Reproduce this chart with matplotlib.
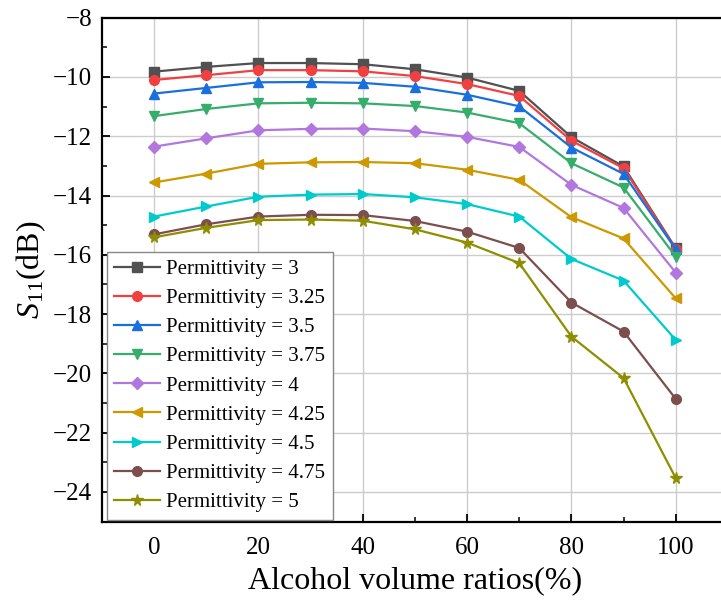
import matplotlib
matplotlib.use('Agg')
import matplotlib.pyplot as plt
from matplotlib.ticker import MultipleLocator

plt.rcParams['font.family'] = ['Liberation Serif', 'DejaVu Serif']
plt.rcParams['mathtext.fontset'] = 'custom'
plt.rcParams['mathtext.rm'] = 'Liberation Serif'
plt.rcParams['mathtext.it'] = 'Liberation Serif:italic'

# alcohol volume ratio (%)
ratio = [0, 10, 20, 30, 40, 50, 60, 70, 80, 90, 100]

# S11 (dB) for each permittivity
s_3 = [-9.82, -9.66, -9.53, -9.53, -9.57, -9.74, -10.02, -10.47, -12.03, -13.02, -15.78]
s_325 = [-10.10, -9.94, -9.77, -9.77, -9.81, -9.97, -10.24, -10.64, -12.15, -13.08, -15.80]
s_35 = [-10.56, -10.37, -10.18, -10.17, -10.20, -10.33, -10.60, -10.99, -12.38, -13.27, -15.81]
s_375 = [-11.32, -11.08, -10.89, -10.87, -10.89, -10.98, -11.20, -11.56, -12.91, -13.73, -16.06]
s_4 = [-12.35, -12.07, -11.80, -11.75, -11.74, -11.83, -12.02, -12.36, -13.64, -14.42, -16.60]
s_425 = [-13.56, -13.26, -12.93, -12.88, -12.87, -12.91, -13.13, -13.47, -14.73, -15.45, -17.47]
s_45 = [-14.71, -14.37, -14.04, -13.97, -13.95, -14.06, -14.29, -14.71, -16.14, -16.87, -18.87]
s_475 = [-15.31, -14.97, -14.71, -14.65, -14.66, -14.86, -15.22, -15.77, -17.61, -18.59, -20.86]
s_5 = [-15.41, -15.09, -14.83, -14.81, -14.85, -15.14, -15.59, -16.28, -18.76, -20.16, -23.53]

series = [s_3, s_325, s_35, s_375, s_4, s_425, s_45, s_475, s_5]
labels = ['Permittivity = 3', 'Permittivity = 3.25', 'Permittivity = 3.5',
          'Permittivity = 3.75', 'Permittivity = 4', 'Permittivity = 4.25',
          'Permittivity = 4.5', 'Permittivity = 4.75', 'Permittivity = 5']
colors = ['#515151', '#F14040', '#1A6FDF', '#37AD6B', '#B177DE',
          '#CC9900', '#00CBCC', '#7D4E4E', '#8E8E00']
markers = ['s', 'o', '^', 'v', 'D', '<', '>', 'o', '*']
msizes = [6.5, 7, 7.5, 7.5, 6.5, 7.5, 7.5, 7, 8.5]

fig = plt.figure(figsize=(7.21, 6.06), dpi=100)
ax = fig.add_axes([0.1415, 0.1394, 0.868, 0.8314])

for y, lab, c, m, ms in zip(series, labels, colors, markers, msizes):
    ax.plot(ratio, y, color=c, marker=m, markersize=ms, linewidth=1.6, label=lab)

ax.set_xlim(-10, 110)
ax.set_ylim(-25, -8)
ax.xaxis.set_major_locator(MultipleLocator(20))
ax.xaxis.set_minor_locator(MultipleLocator(10))
ax.yaxis.set_major_locator(MultipleLocator(2))
ax.yaxis.set_minor_locator(MultipleLocator(1))
ax.tick_params(which='both', direction='in', top=False, right=False, labelsize=18)
ax.tick_params(which='major', length=6, width=1.3)
ax.tick_params(which='minor', length=3.5, width=1.1)
ax.tick_params(axis='y', which='major', pad=7)
ax.tick_params(axis='x', which='major', pad=11)
ax.grid(True, which='major', color='#cccccc', linewidth=1.0)
ax.set_axisbelow(True)
for sp in ax.spines.values():
    sp.set_linewidth(1.6)

ax.set_xlabel('Alcohol volume ratios(%)', fontsize=23, labelpad=5)
ax.set_ylabel(r'$S_{11}$(dB)', fontsize=23, labelpad=4)

leg = ax.legend(loc='lower left', bbox_to_anchor=(0.008, 0.004), borderaxespad=0,
                fontsize=15, fancybox=False, framealpha=1, edgecolor='#888888',
                handlelength=2.2, handletextpad=0.3, labelspacing=0.46,
                borderpad=0.35)
leg.get_frame().set_linewidth(1.0)

fig.savefig('out.png', dpi=100)
